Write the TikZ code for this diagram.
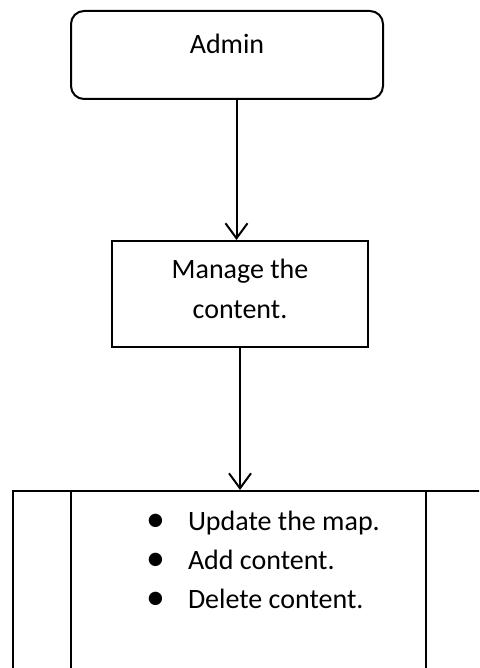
\documentclass[tikz,border=0pt]{standalone}
\usepackage{fontspec}
\setmainfont{Carlito}
\usetikzlibrary{positioning,arrows.meta}

\newcommand{\itembullet}{\makebox[21pt][l]{\raisebox{-0.6pt}{\scalebox{1.35}{\textbullet}}}}

\begin{document}
\begin{tikzpicture}[x=0.5pt,y=-0.5pt,line width=1pt,font=\fontsize{14}{20}\selectfont,
  box/.style={draw,rectangle,inner sep=0pt,align=center},
  flow/.style={-{Straight Barb[length=7.5pt,width=11pt]}}]
\useasboundingbox (0,0) rectangle (479,668);
\clip (0,0) rectangle (479,668);
\node[box,rounded corners=6.5pt,minimum width=156pt,text height=21.5pt,text depth=22.5pt] (admin) at (227,55) {Admin};
\node[box,minimum width=128pt,text height=38.5pt,text depth=14.5pt] (mgr) at (240,294) {Manage the\\content.};
% panel at the bottom, cut by the page edge
\node[draw,inner sep=0pt,minimum width=270pt,minimum height=130pt,anchor=north west] (tasks) at (12,490) {};
\draw (tasks.north west) ++(59,0) -- ++(0,260);
\draw (tasks.north west) ++(414,0) -- ++(0,260);
\node[anchor=base west,align=left,inner sep=0pt,font=\fontsize{14}{19.5}\selectfont] (items) at (145,608)
  {\itembullet Update the map.\\
   \itembullet Add content.\\
   \itembullet Delete content.};
\draw[flow] ([xshift=4.75pt]admin.south) -- ([xshift=-1.75pt]mgr.north);
\draw[flow] (mgr.south) -- (mgr.south |- tasks.north);
\end{tikzpicture}
\end{document}
